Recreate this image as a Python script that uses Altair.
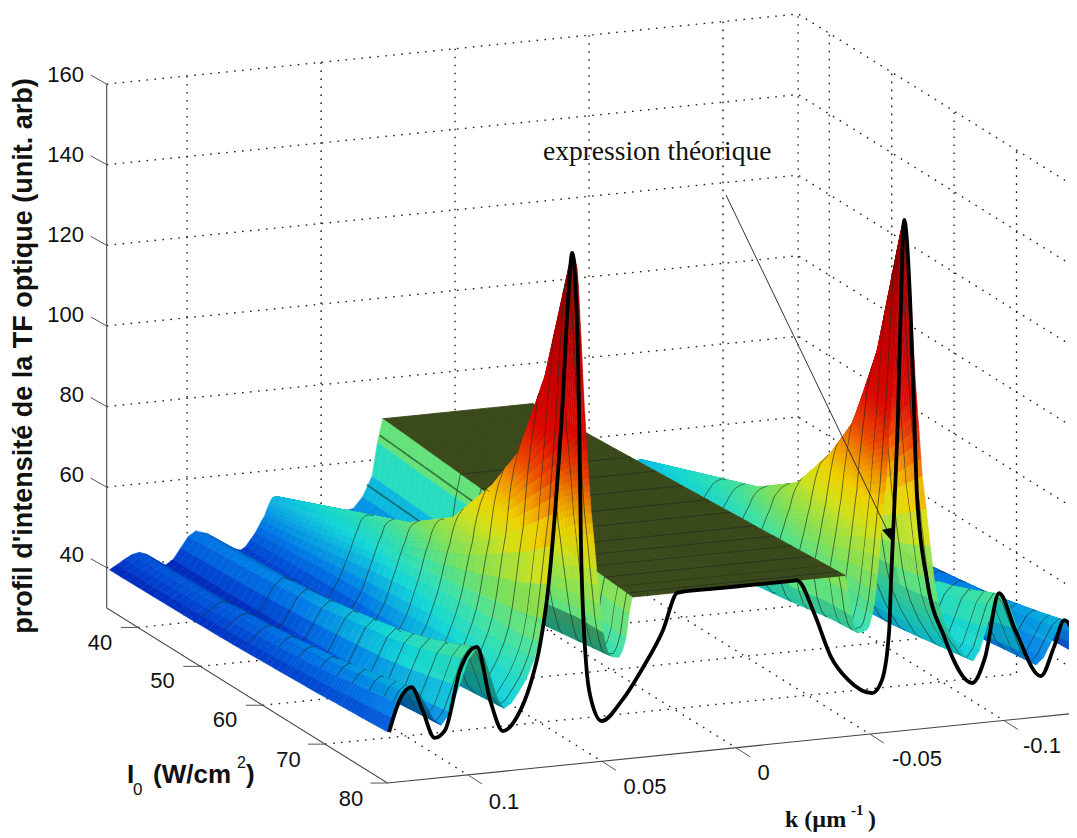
import altair as alt
import numpy as np
import pandas as pd

# ---- axes values
Z_TICKS = [40, 60, 80, 100, 120, 140, 160]
I_TICKS = [40, 50, 60, 70, 80]
K_TICKS = [0.1, 0.05, 0, -0.05, -0.1]
K_MAX, K_MIN, I_MIN, I_MAX, Z_MIN, Z_MAX = 0.13, -0.128, 35, 80, 30, 160

# ---- surface: cross sections (half profile, +k side)
ROW_I = [35, 47, 55, 62, 68, 72, 76, 80]
K_BACK = [.129, .1178, .108, .0968, .080, .0745, .071, .0695, .0685, .068, .067, .066, .065, .064, .063, .061, .058, .054, .046, .038, .031, .027, 0]
K_FRONT = [.130, .121, .110, .0965, .0865, .0785, .0735, .0675, .0649, .0626, .0611, .0593, .0578, .0566, .0551, .0540, .0520, .0496, .0470, .0436, .0410, .0387, 0]
Z_TABLE = [
    [39.4, 39.8, 40.2, 40.8, 41.3, 41.8, 42.2, 42.7],
    [43, 44.2, 45.5, 47, 48.5, 50, 51.5, 53.2],
    [39.2, 39.5, 40, 40.5, 41, 41.5, 42.3, 43],
    [46.9, 48.5, 50, 52, 54, 56, 58.5, 61.5],
    [41, 41.5, 42, 42.5, 43, 43.8, 44.7, 45.6],
    [45, 47, 48, 49.5, 50.5, 51, 51.5, 52],
    [49, 53, 56, 58, 59, 59.5, 60, 61],
    [51.5, 58, 62, 68, 74, 80, 86, 92.8],
    [52.8, 60, 65, 72, 82, 93, 105, 117],
    [53.2, 60.7, 65.7, 73.5, 86, 98, 116, 145],
    [53.4, 61, 66, 74, 88, 100, 123, 157],
    [53.2, 60.8, 65.8, 73.5, 87, 99, 120, 153],
    [53, 60.5, 65.5, 73, 86, 97, 114, 136],
    [52.5, 60, 65, 72, 84, 93, 106, 119],
    [52, 59, 64, 71, 80, 87, 97, 103],
    [51, 57.5, 62, 68, 75, 80, 87, 92],
    [50, 55, 59, 64, 68, 71, 75, 78],
    [49, 52, 55, 58, 60, 61, 62, 62],
    [48, 49, 50.5, 52, 53, 54, 55, 56],
    [48.5, 49, 50, 52, 53, 54, 55, 55.4],
    [56, 56, 57, 58, 58, 59, 60, 60],
    [70, 70, 70, 70, 70, 70, 70, 70],
    [70, 70, 70, 70, 70, 70, 70, 70],
]
SUBDIV = [4, 4, 4, 4, 3, 3, 4, 6, 6, 6, 6, 6, 6, 6, 6, 5, 4, 3, 2, 2, 2]
LINE_ROWS = [49, 52.7, 56.5, 60.2, 63.5, 67, 69.7, 72.3, 75, 77.4, 79]
WALL_Z = [66, 54]
WALL_COL = ["#2f7a3c", "#0f6a70"]
PLATE = "#3b4a1b"

# ---- theoretical curve at I0 = 80
CURVE_K = [.1294, .1253, .1210, .1171, .1124, .1085, .1029, .0966, .0917, .0869, .0813, .0768, .0731, .0701, .0675, .0649, .0626, .0611,
           .0596, .0585, .0578, .0559, .0540, .0501, .0425, .0346, .0272, .0219, .0205, .010, 0, -.010, -.0210, -.0228, -.0292, -.0355, -.0419, -.0508, -.0545, -.0572, -.0579,
           -.059, -.0605, -.0616, -.0628, -.065, -.0665, -.0676, -.0713, -.0777, -.0881, -.093, -.0982, -.1042, -.1138, -.1187, -.1225, -.1273]
CURVE_Z = [42.6, 50.5, 53.2, 47.5, 40, 41.7, 56.2, 61.5, 48, 40, 43.6, 50.7, 60.4, 73.8, 92.8, 117.4, 145.3, 156.9,
           145, 117, 83.7, 54.7, 45.5, 40, 44.6, 52.3, 61, 69.9, 70, 70, 70, 70, 70, 70, 61.4, 50.1, 44, 40.1, 43.1, 55.3, 67.7,
           84.2, 109, 137, 156.7, 136.7, 108.6, 87.6, 66.8, 52.3, 40.1, 46.2, 61.7, 52.2, 40.1, 47, 53.4, 48.1]

# ---- colour by height
C_Z = [30, 38, 42, 47, 52, 57, 63, 70, 78, 85, 92, 100, 110, 130, 157]
C_R = [0, 0, 0, 0, 10, 20, 60, 130, 210, 240, 240, 235, 220, 190, 130]
C_G = [0, 20, 70, 120, 170, 215, 225, 225, 225, 210, 150, 70, 10, 0, 0]
C_B = [130, 170, 210, 230, 225, 215, 170, 90, 30, 0, 0, 0, 0, 0, 0]


def proj(k, i, z):
    d = K_MAX - k
    return (106.7 + d * 2680 + (i - 35) * 6.24,
            608 - d * 272 + (i - 35) * 3.89 - (z - 30) * 4.03)


def colour(z, f=1.0):
    return "#%02x%02x%02x" % tuple(int(np.interp(z, C_Z, c) * f) for c in (C_R, C_G, C_B))


def tone(z, k, i):
    front = np.clip((i - 52) / 20, 0, 1)
    inner = np.clip((0.125 - abs(k)) / 0.03, 0, 1)
    low = np.clip(1 - (z - 45) / 30, 0, 1)
    return z + 10 * front * inner * low


def pchip(x, y, xq):
    x, y = np.asarray(x, float), np.asarray(y, float)
    h, d = np.diff(x), np.diff(y) / np.diff(x)
    m = np.zeros_like(y)
    for i in range(1, len(x) - 1):
        if d[i - 1] * d[i] > 0:
            w1, w2 = 2 * h[i] + h[i - 1], h[i] + 2 * h[i - 1]
            m[i] = (w1 + w2) / (w1 / d[i - 1] + w2 / d[i])
    m[0], m[-1] = d[0], d[-1]
    j = np.clip(np.searchsorted(x, xq, side="right") - 1, 0, len(x) - 2)
    t = (xq - x[j]) / h[j]
    return ((2 * t**3 - 3 * t**2 + 1) * y[j] + (t**3 - 2 * t**2 + t) * h[j] * m[j]
            + (-2 * t**3 + 3 * t**2) * y[j + 1] + (t**3 - t**2) * h[j] * m[j + 1])


def section(i0):
    t = (i0 - 35) / 45
    kk = np.array([(1 - t) * a + t * b for a, b in zip(K_BACK, K_FRONT)])
    zz = np.array([np.interp(i0, ROW_I, r) for r in Z_TABLE])
    u = np.arange(len(kk), dtype=float)
    uq = np.concatenate([np.linspace(u[a], u[a + 1], SUBDIV[a], endpoint=False) for a in range(len(kk) - 2)] + [[u[-2], u[-1]]])
    kq = np.interp(uq, u, kk)
    zq = pchip(u, zz, uq)
    plate_mask = uq >= len(kk) - 2
    k_left = kq[::-1]
    k_right = -kq[:-1] - 0.002
    k_all = np.concatenate([k_right, k_left])
    z_all = np.concatenate([zq[:-1], zq[::-1]])
    p_all = np.concatenate([plate_mask[:-1], plate_mask[::-1]])
    return k_all, z_all, p_all


def wall_point(i0, level):
    t = (i0 - 35) / 45
    cols = (19, 20, 21)
    zs = [np.interp(i0, ROW_I, Z_TABLE[c]) for c in cols]
    ks = [(1 - t) * K_BACK[c] + t * K_FRONT[c] for c in cols]
    return proj(float(np.interp(level, zs, ks)), i0, level)


def feat(coords, fill, stroke, sw, kind="Polygon"):
    pts = [[round(float(a), 1), round(float(b), 1)] for a, b in coords]
    geom = {"type": "Polygon", "coordinates": [pts + [pts[0]]]} if kind == "Polygon" else {"type": "LineString", "coordinates": pts}
    return {"type": "Feature", "geometry": geom, "properties": {"fill": fill, "stroke": stroke, "sw": sw}}


rows = sorted(set(list(np.arange(35, 70, 1.0)) + list(np.arange(70, 76, 0.5)) + list(np.arange(76, 80.01, 0.25)) + LINE_ROWS))
features = []
pending = []
for r in range(len(rows) - 1):
    i0, i1 = rows[r], rows[r + 1]
    k0, z0, p0 = section(i0)
    k1, z1, p1 = section(i1)
    for j in range(len(k0) - 1):
        q = [proj(k0[j], i0, z0[j]), proj(k0[j + 1], i0, z0[j + 1]), proj(k1[j + 1], i1, z1[j + 1]), proj(k1[j], i1, z1[j])]
        if p0[j] and p0[j + 1]:
            features.append(feat(q, PLATE, PLATE, 0.9))
        else:
            zm = (z0[j] + z0[j + 1] + z1[j] + z1[j + 1]) / 4
            km = (k0[j] + k0[j + 1]) / 2
            dx = abs(q[1][0] - q[0][0]) + 1e-6
            rise = (z1[j + 1] + z0[j + 1] - z1[j] - z0[j]) / 2 * 4.03 / dx
            gain = 0.35 if km > 0 else 0.12
            f = 1 - gain * min(1, max(0, rise) / 1.2) if zm < 62 else 1.0
            c = colour(tone(zm, km, (i0 + i1) / 2), f)
            features.append(feat(q, c, c, 0.5))
    features += pending
    pending = []
    if i1 < 56:
        for lv, col in zip(WALL_Z, WALL_COL):
            pending.append(feat([wall_point(i0, lv), wall_point(i1, lv)], "none", col, 1.7, "LineString"))
    if i1 in LINE_ROWS:
        kl, zl, _ = section(i1)
        sel = np.abs(kl) < 0.127
        pending.append(feat([proj(a, i1, b) for a, b in zip(kl[sel], zl[sel])], "none", "#1e2a20", 0.65, "LineString"))
features += pending

# ---- line data
grid = []
def add(rows_list, name, pts):
    for n, (a, b, c) in enumerate(pts):
        x, y = proj(a, b, c)
        rows_list.append({"g": name, "o": n, "x": x, "y": y})

for z in Z_TICKS:
    add(grid, f"z{z}", [(K_MAX, I_MIN, z), (K_MIN, I_MIN, z), (K_MIN, I_MAX, z)])
for k in K_TICKS:
    add(grid, f"k{k}", [(k, I_MIN, Z_MAX), (k, I_MIN, Z_MIN), (k, I_MAX, Z_MIN)])
for i in I_TICKS[:-1]:
    add(grid, f"i{i}", [(K_MAX, i, Z_MIN), (K_MIN, i, Z_MIN), (K_MIN, i, Z_MAX)])
add(grid, "top", [(K_MIN, I_MIN, Z_MIN), (K_MIN, I_MIN, Z_MAX)])

axes = []
add(axes, "az", [(K_MAX, I_MIN, Z_MAX), (K_MAX, I_MIN, Z_MIN), (K_MAX, I_MAX, Z_MIN), (K_MIN, I_MAX, Z_MIN)])
ticks = []
for z in Z_TICKS:
    x, y = proj(K_MAX, I_MIN, z)
    ticks += [{"g": f"z{z}", "o": 0, "x": x, "y": y}, {"g": f"z{z}", "o": 1, "x": x - 16, "y": y - 9}]
for i in I_TICKS:
    x, y = proj(K_MAX, i, Z_MIN)
    ticks += [{"g": f"i{i}", "o": 0, "x": x, "y": y}, {"g": f"i{i}", "o": 1, "x": x - 17, "y": y}]
for k in K_TICKS:
    x, y = proj(k, I_MAX, Z_MIN)
    ticks += [{"g": f"k{k}", "o": 0, "x": x, "y": y}, {"g": f"k{k}", "o": 1, "x": x + 14, "y": y + 9}]

curve = []
for n, (k, z) in enumerate(zip(CURVE_K, CURVE_Z)):
    x, y = proj(k, I_MAX, z)
    curve.append({"g": "c", "o": n, "x": x, "y": y})

arrow = [{"g": "a", "o": 0, "x": 726, "y": 195}, {"g": "a", "o": 1, "x": 890, "y": 536}]
head = [feat([(893, 542), (882.5, 530), (892, 528)], "#000000", "#000000", 0.5)]

X = alt.X("x:Q", scale=alt.Scale(domain=[8, 1069], nice=False, zero=False), axis=None)
Y = alt.Y("y:Q", scale=alt.Scale(domain=[838, 8], nice=False, zero=False), axis=None)


def lines(data, color, width, dash=None, interpolate="linear"):
    kw = {"color": color, "strokeWidth": width, "clip": True, "interpolate": interpolate}
    if dash:
        kw["strokeDash"] = dash
    return alt.Chart(pd.DataFrame(data)).mark_line(**kw).encode(x=X, y=Y, detail="g:N", order="o:Q")


def geo(feats):
    return (alt.Chart(alt.Data(values=feats)).mark_geoshape()
            .encode(fill=alt.Fill("properties.fill:N", scale=None),
                    stroke=alt.Stroke("properties.stroke:N", scale=None),
                    strokeWidth=alt.StrokeWidth("properties.sw:Q", scale=None))
            .project(type="identity", scale=1, translate=[-8, -8]))


def text(items, size, align="center", font="Liberation Sans", weight="normal", angle=0, color="#111111"):
    kw = {"fontSize": size, "align": align, "baseline": "middle", "font": font, "fontWeight": weight, "color": color}
    if angle:
        kw["angle"] = angle
    return alt.Chart(pd.DataFrame(items, columns=["x", "y", "t"])).mark_text(**kw).encode(x=X, y=Y, text="t:N")


z_labels = [(84, 555 - (t - 40) * 4.0, str(t)) for t in Z_TICKS]
i_labels = [(100, 643, "40"), (162.5, 681, "50"), (225, 720, "60"), (288.6, 760, "70"), (351, 799, "80")]
k_labels = [(504, 802, "0.1"), (645, 787, "0.05"), (763.6, 773, "0"), (917, 759, "-0.05"), (1042, 746, "-0.1")]

layers = [
    lines(grid, "#222222", 1.4, [1.6, 6.4]),
    lines(axes, "#444444", 1.1),
    lines(ticks, "#555555", 1),
    geo(features),
    lines(curve, "#000000", 3.8, interpolate="monotone"),
    lines(arrow, "#333333", 1),
    geo(head),
    text(z_labels, 22, "right"),
    text(i_labels, 22),
    text(k_labels, 22),
    text([(127, 775, "I")], 26, "left", weight="bold"),
    text([(133, 790, "0")], 17, "left"),
    text([(153, 775, "(W/cm")], 26, "left", weight="bold"),
    text([(237, 763, "2")], 16, "left"),
    text([(246, 775, ")")], 26, "left", weight="bold"),
    text([(24, 356, "profil d'intensité de la TF optique (unit. arb)")], 27, weight="bold", angle=270),
    text([(785, 820, "k (µm")], 24, "left", "Liberation Serif", "bold"),
    text([(851, 810, "-1")], 15, "left", "Liberation Serif", "bold"),
    text([(868, 820, ")")], 24, "left", "Liberation Serif", "bold"),
    text([(543, 152, "expression théorique")], 27.5, "left", "Liberation Serif"),
]

chart = alt.layer(*layers).properties(
    width=1061, height=830, padding=0, autosize=alt.AutoSizeParams(type="none"), background="white"
).configure_view(stroke=None)

chart.save("out.html", embed_options={"renderer": "svg", "actions": False})
